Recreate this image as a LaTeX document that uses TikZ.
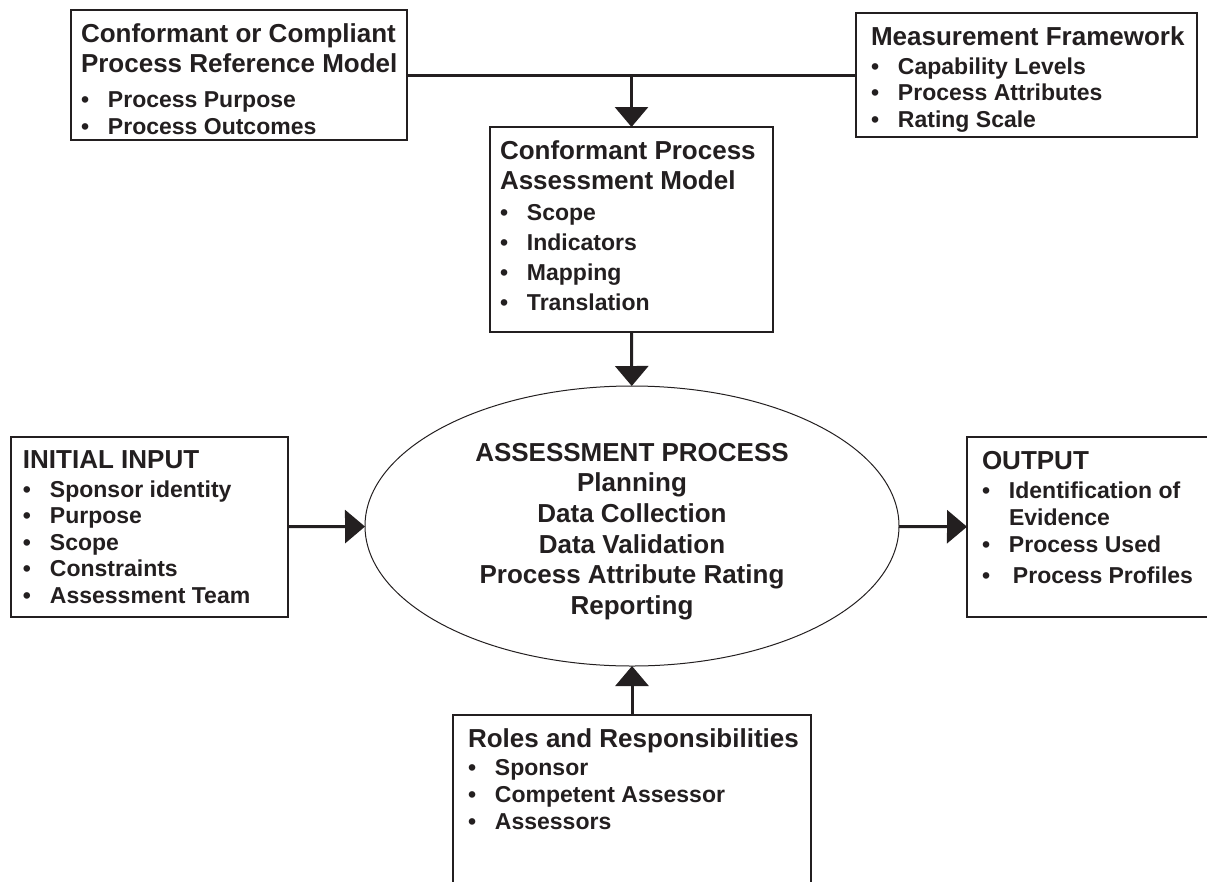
\documentclass[tikz,border=0pt]{standalone}
\usepackage{fontspec}
\setmainfont{Liberation Sans}
\usetikzlibrary{arrows.meta,shapes.geometric}
\definecolor{ink}{HTML}{231F20}
% box heading line, bullet item, fixed-size text block
\newcommand{\hd}[1]{{\fontsize{26}{30}\selectfont\mbox{#1}\par}}
\newcommand{\itm}[2][27pt]{{\fontsize{23}{#1}\selectfont\hangindent=27pt\hangafter=1\makebox[27pt][l]{\textbullet}#2\par}}
\newcommand{\bx}[3]{\parbox[t][#2][t]{#1}{\raggedright\vspace*{14pt}#3}}
\begin{document}
\begin{tikzpicture}[x=1pt,y=-1pt,
  box/.style={draw=ink,line width=1.3pt,anchor=north west,inner ysep=0pt,outer sep=0pt,text=ink,font=\bfseries},
  arr/.style={draw=ink,line width=3pt,-{Triangle[width=33pt,length=20pt]}}]
  \useasboundingbox (0,0) rectangle (1207,881);
  \node[box,inner xsep=10pt] (prm) at (71,10) {\bx{316pt}{130pt}{\hd{Conformant or Compliant}\hd{Process Reference Model}\vspace{8pt}\itm{Process Purpose}\itm{Process Outcomes}}};
  \node[box,inner xsep=15pt] (mf) at (856,13) {\bx{311pt}{124pt}{\hd{Measurement Framework}\vspace{2pt}\itm[26.5pt]{Capability Levels}\itm[26.5pt]{Process Attributes}\itm[26.5pt]{Rating Scale}}};
  \node[box,inner xsep=10pt] (pam) at (490,127) {\bx{263pt}{205pt}{\hd{Conformant Process}\hd{Assessment Model}\vspace{1pt}\itm[30pt]{Scope}\itm[30pt]{Indicators}\itm[30pt]{Mapping}\itm[30pt]{Translation}}};
  \node[box,inner xsep=12pt] (in) at (11,437) {\bx{253pt}{180pt}{\hd{INITIAL INPUT}\vspace{2pt}\itm[26.5pt]{Sponsor identity}\itm[26.5pt]{Purpose}\itm[26.5pt]{Scope}\itm[26.5pt]{Constraints}\itm[26.5pt]{Assessment Team}}};
  \node[box,inner xsep=15pt] (out) at (967,437) {\bx{211pt}{180pt}{\hd{OUTPUT}\vspace{2pt}\itm{Identification of\newline Evidence}\itm{Process Used}\vspace{4pt}\itm{\hspace{4pt}Process~Profiles}}};
  \node[box,inner xsep=15pt] (rr) at (453,715) {\bx{328pt}{170pt}{\hd{Roles and Responsibilities}\vspace{1pt}\itm{Sponsor}\itm{Competent Assessor}\itm{Assessors}}};
  \node[ellipse,draw=ink,line width=1pt,minimum width=534pt,minimum height=280pt,inner sep=0pt,outer sep=0pt,align=center,text=ink,font=\bfseries\fontsize{26}{30.6}\selectfont] (ap) at (632,526) {\rule{0pt}{29pt}ASSESSMENT PROCESS\\Planning\\Data Collection\\Data Validation\\Process Attribute Rating\\Reporting};
  \coordinate (j) at (prm.east -| pam.north);
  \draw[draw=ink,line width=3pt] (prm) -- (mf);
  \draw[arr] (j) -- (pam);
  \draw[arr] (pam) -- (ap);
  \draw[arr] (in) -- (ap);
  \draw[arr] (ap) -- (out);
  \draw[arr] (rr) -- (ap);
\end{tikzpicture}
\end{document}
